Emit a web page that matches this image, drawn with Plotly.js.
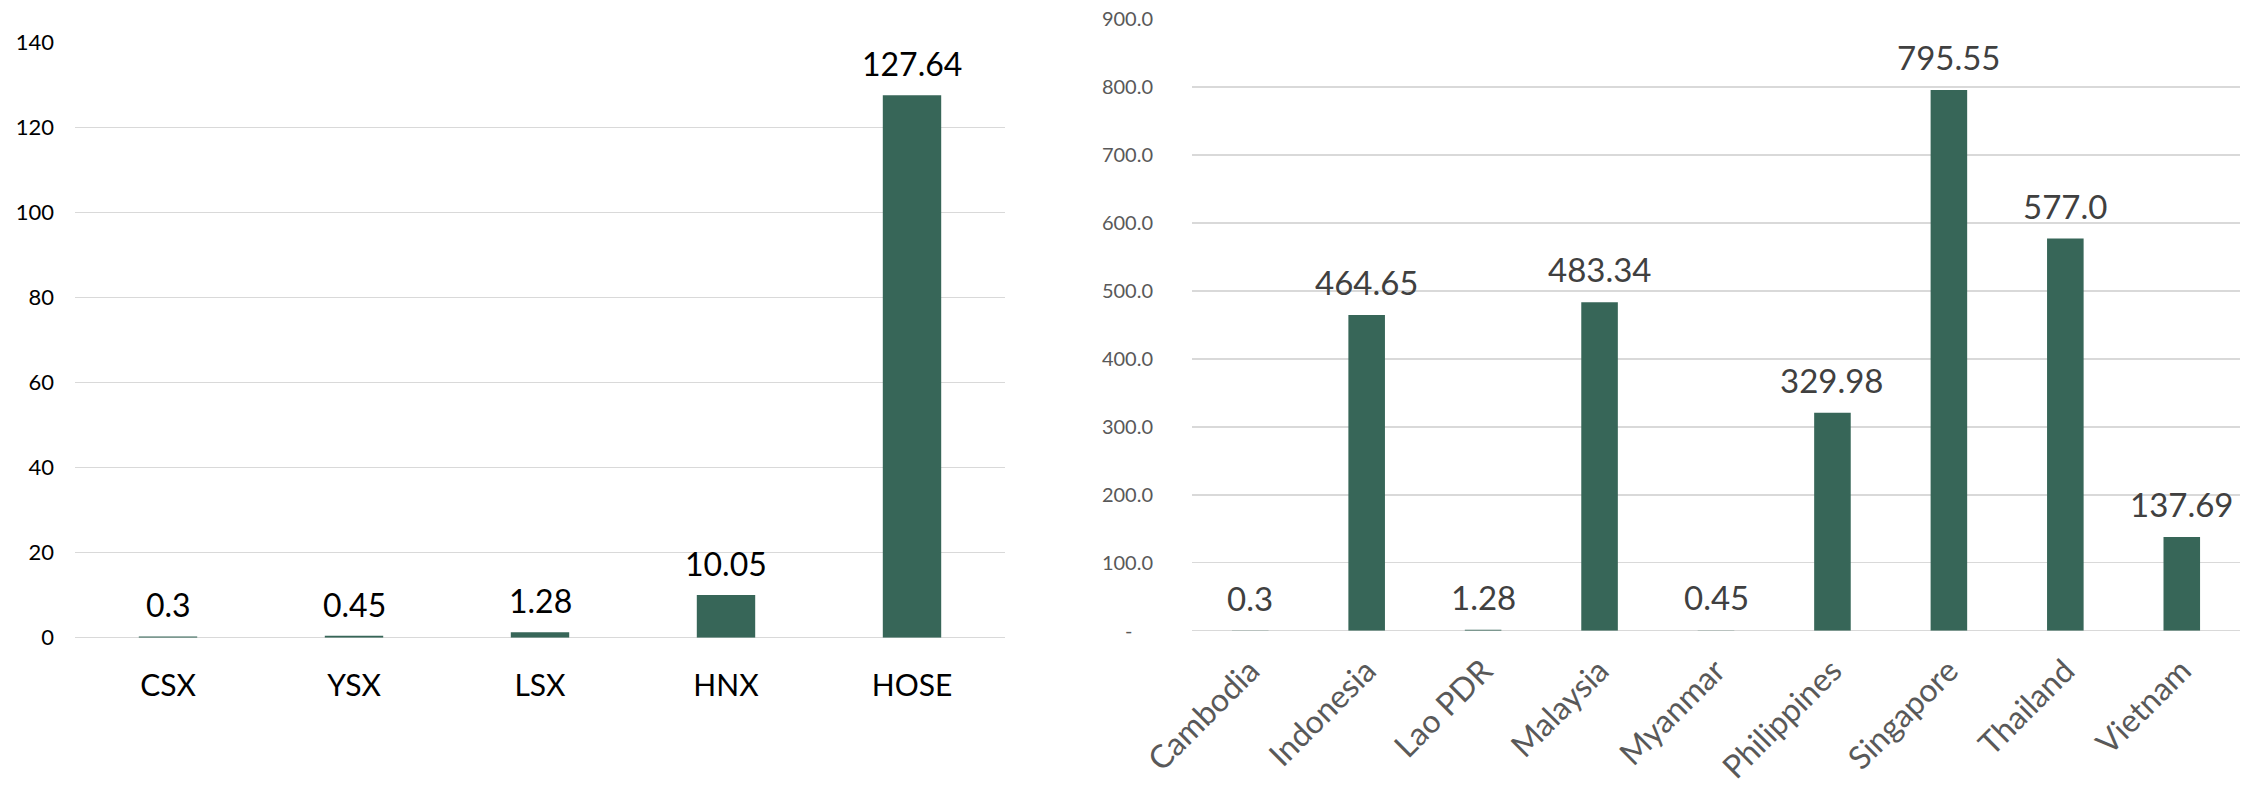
<!DOCTYPE html>
<html>
<head>
<meta charset="utf-8">
<script src="https://cdn.plot.ly/plotly-3.0.1.min.js"></script>
<style>
  html, body { margin: 0; padding: 0; background: #ffffff; }
  #chart { width: 2257px; height: 787px; }
</style>
</head>
<body>
<div id="chart"></div>
<script>
// ---- Data ----
const leftCategories = ['CSX', 'YSX', 'LSX', 'HNX', 'HOSE'];
const leftValues = [0.3, 0.45, 1.28, 10.05, 127.64];
const leftLabels = ['0.3', '0.45', '1.28', '10.05', '127.64'];
const leftTickVals = [0, 20, 40, 60, 80, 100, 120, 140];
const leftTickText = ['0', '20', '40', '60', '80', '100', '120', '140'];

const rightCategories = ['Cambodia', 'Indonesia', 'Lao PDR', 'Malaysia', 'Myanmar', 'Philippines', 'Singapore', 'Thailand', 'Vietnam'];
const rightValues = [0.3, 464.65, 1.28, 483.34, 0.45, 320.5, 795.55, 577.0, 137.69];
const rightLabels = ['0.3', '464.65', '1.28', '483.34', '0.45', '329.98', '795.55', '577.0', '137.69'];
const rightTickVals = [0, 100, 200, 300, 400, 500, 600, 700, 800, 900];
const rightTickText = ['-\u00a0\u00a0\u00a0\u00a0', '100.0', '200.0', '300.0', '400.0', '500.0', '600.0', '700.0', '800.0', '900.0'];

// ---- Styles ----
const barColor = '#376658';
const gridColor = '#d9d9d9';
const FONT = 'Lato, "Open Sans", sans-serif';

const traces = [
  {
    type: 'bar', x: leftCategories, y: leftValues, xaxis: 'x', yaxis: 'y',
    marker: { color: barColor }, hoverinfo: 'skip', showlegend: false
  },
  {
    type: 'bar', x: rightCategories, y: rightValues, xaxis: 'x2', yaxis: 'y2',
    marker: { color: barColor }, hoverinfo: 'skip', showlegend: false
  }
];

const annotations = [];
leftCategories.forEach((c, i) => {
  annotations.push({
    xref: 'x', yref: 'y', x: c, y: leftValues[i], text: leftLabels[i],
    showarrow: false, yanchor: 'bottom', xanchor: 'center', yshift: 10,
    font: { family: FONT, size: 32, color: '#000000' }
  });
});
rightCategories.forEach((c, i) => {
  annotations.push({
    xref: 'x2', yref: 'y2', x: c, y: rightValues[i], text: rightLabels[i],
    showarrow: false, yanchor: 'bottom', xanchor: 'center', yshift: 11,
    font: { family: FONT, size: 33, color: '#404040' }
  });
});

const layout = {
  width: 2257, height: 787,
  margin: { l: 0, r: 0, t: 0, b: 0, pad: 0 },
  paper_bgcolor: '#ffffff', plot_bgcolor: '#ffffff',
  bargap: 0.686,
  showlegend: false,
  font: { family: FONT },
  xaxis: {
    domain: [75 / 2257, 1005 / 2257], anchor: 'y',
    type: 'category', showgrid: false, showline: false, zeroline: false,
    ticks: '', ticklabelstandoff: 27,
    tickfont: { family: FONT, size: 30, color: '#000000' }
  },
  yaxis: {
    domain: [(787 - 637.7) / 787, (787 - 42.7) / 787], anchor: 'x',
    range: [0, 140], tickvals: leftTickVals, ticktext: leftTickText,
    showgrid: true, gridcolor: gridColor, gridwidth: 1.5,
    zeroline: true, zerolinecolor: gridColor, zerolinewidth: 1.5,
    showline: false, ticks: '', ticklabelstandoff: 20,
    tickfont: { family: FONT, size: 22, color: '#000000' }
  },
  xaxis2: {
    domain: [1192 / 2257, 2240 / 2257], anchor: 'y2',
    type: 'category', showgrid: false, showline: false, zeroline: false,
    ticks: '', tickangle: -45, ticklabelstandoff: 14,
    tickfont: { family: FONT, size: 32, color: '#595959' }
  },
  yaxis2: {
    domain: [(787 - 630.7) / 787, (787 - 19) / 787], anchor: 'x2',
    range: [0, 900], tickvals: rightTickVals, ticktext: rightTickText,
    showgrid: true, gridcolor: gridColor, gridwidth: 1.5,
    zeroline: true, zerolinecolor: gridColor, zerolinewidth: 1.5,
    showline: false, ticks: '', ticklabelstandoff: 38,
    tickfont: { family: FONT, size: 20, color: '#595959' }
  },
  annotations: annotations
};

Plotly.newPlot('chart', traces, layout, { displayModeBar: false, staticPlot: true });
</script>
</body>
</html>
